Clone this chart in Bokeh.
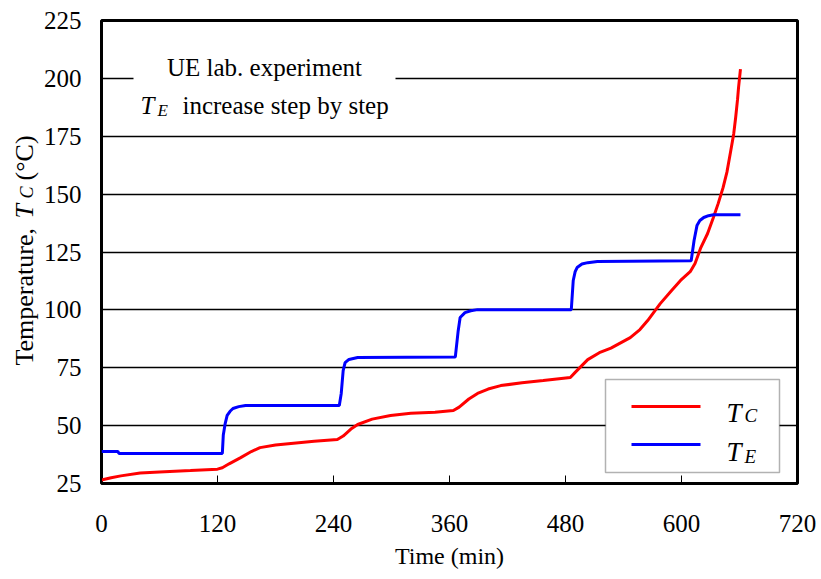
import math
from bokeh.plotting import figure
from bokeh.layouts import row
from bokeh.models import FixedTicker, Label, BoxAnnotation
from bokeh.embed import file_html
from bokeh.resources import INLINE

# ---- data ----
time_TE = [0, 17, 18, 125, 126, 128, 130, 133, 136, 142, 149,
           246, 248, 250, 252, 256, 265,
           366, 369, 371, 376, 382, 389,
           486, 488, 490, 492, 497, 503, 513,
           610, 613, 616, 619, 623, 628, 633, 661]
TE = [38.8, 38.8, 38.0, 38.0, 46.0, 51.0, 54.4, 56.2, 57.4, 58.2, 58.7,
      58.7, 63.9, 73.8, 77.2, 78.6, 79.4,
      79.6, 91.0, 96.7, 98.8, 99.6, 100.1,
      100.1, 112.7, 116.5, 118.3, 119.8, 120.4, 120.9,
      121.2, 130.0, 136.4, 138.6, 139.9, 140.7, 141.1, 141.1]

time_TC = [0, 10, 20, 40, 60, 92, 120, 125, 132, 144,
           155, 164, 180, 196, 220, 244, 250, 258, 265, 280,
           299, 320, 345, 364, 370, 380, 389, 400, 413, 435,
           457, 485, 490, 503, 515, 527, 547, 557, 565, 578,
           590, 599, 609, 614, 620, 627, 633, 638, 643, 647,
           651, 654, 656, 658, 659, 660, 661]
TC = [26.5, 27.5, 28.3, 29.5, 30.0, 30.6, 31.2, 31.8, 33.5, 36.2,
      38.8, 40.5, 41.6, 42.3, 43.2, 44.0, 45.5, 48.5, 50.5, 52.8,
      54.4, 55.3, 55.8, 56.5, 58.0, 61.5, 63.9, 65.8, 67.3, 68.5,
      69.5, 70.8, 73.0, 78.5, 81.5, 83.5, 88.0, 91.5, 95.4, 102.7,
      108.5, 112.7, 116.5, 120.0, 126.9, 133.0, 139.9, 146.0, 152.8, 159.5,
      168.8, 176.0, 183.0, 191.0, 196.0, 200.0, 204.0]

x_ticks = [0, 120, 240, 360, 480, 600, 720]
y_ticks = [25, 50, 75, 100, 125, 150, 175, 200, 225]

FONT = "Times, serif"

# page geometry (pixels)
W, H = 821, 579
LW = 40                      # width of the strip holding the y-axis title
FL, FR, FT, FB = 101, 797, 20, 483

def dx(px):
    return (px - FL) * 720.0 / (FR - FL)

def dy(py):
    return 25 + (FB - py) * 200.0 / (FB - FT)

# ---- strip for the y-axis title ----
ttl = figure(width=LW, height=H, x_range=(0, LW), y_range=(0, H),
             output_backend="svg", toolbar_location=None,
             x_axis_type=None, y_axis_type=None,
             min_border_left=0, min_border_right=0,
             min_border_top=0, min_border_bottom=0)
if "frame_align" in ttl.properties():
    ttl.frame_align = False
ttl.outline_line_color = None
ttl.background_fill_color = "white"
ttl.border_fill_color = "white"

def tlab(text, px, py, size, style="normal"):
    ttl.add_layout(Label(x=px, y=H - py, x_units="data", y_units="data",
                         text=text, text_font=FONT, text_font_size=f"{size}px",
                         text_font_style=style, text_color="black",
                         text_align="left", text_baseline="alphabetic",
                         angle=math.pi / 2))

tlab("Temperature,", 24, 365, 26)
tlab("T", 24, 218, 26, style="italic")
tlab("C", 26, 198, 18, style="italic")
tlab("(°C)", 24, 180, 26)

# ---- main chart ----
p = figure(width=W - LW, height=H, x_range=(0, 720), y_range=(25, 225),
           output_backend="svg", toolbar_location=None,
           min_border_left=FL - LW, min_border_right=W - FR,
           min_border_top=FT, min_border_bottom=H - FB)
if "frame_align" in p.properties():
    p.frame_align = False
p.background_fill_color = "white"
p.border_fill_color = "white"
p.outline_line_color = "black"
p.outline_line_width = 3

p.xgrid.visible = False
p.ygrid.ticker = FixedTicker(ticks=y_ticks)
p.ygrid.grid_line_color = "black"
p.ygrid.grid_line_width = 1.5
p.ygrid.level = "image"

p.xaxis.ticker = FixedTicker(ticks=x_ticks)
p.yaxis.ticker = FixedTicker(ticks=y_ticks)
for ax in (p.xaxis, p.yaxis):
    ax.axis_line_color = None
    ax.minor_tick_line_color = None
    ax.major_label_text_font = FONT
    ax.major_label_text_font_size = "25px"
    ax.major_label_text_color = "black"
    ax.major_tick_out = 0
p.xaxis.major_tick_in = 8
p.xaxis.major_tick_line_color = "black"
p.xaxis.major_tick_line_width = 1
p.yaxis.major_tick_in = 0
p.yaxis.major_tick_line_color = None
p.xaxis.major_label_standoff = 31
p.yaxis.major_label_standoff = 20

p.xaxis.axis_label = "Time (min)"
p.xaxis.axis_label_text_font = FONT
p.xaxis.axis_label_text_font_size = "24px"
p.xaxis.axis_label_text_font_style = "normal"
p.xaxis.axis_label_text_color = "black"
p.xaxis.axis_label_standoff = 8

# data lines
p.line(time_TC, TC, line_color="#ff0000", line_width=3)
p.line(time_TE, TE, line_color="#0000ff", line_width=3)

def lab(text, px, py, size, style="normal", align="left"):
    p.add_layout(Label(x=px - FL, y=FB - py, x_units="screen", y_units="screen",
                       text=text, text_font=FONT, text_font_size=f"{size}px",
                       text_font_style=style, text_color="black",
                       text_align=align, text_baseline="alphabetic"))

# annotation box
p.add_layout(BoxAnnotation(left=dx(133), right=dx(395), top=dy(34), bottom=dy(124),
                           fill_color="white", fill_alpha=1.0, line_color=None,
                           level="underlay"))
lab("UE lab. experiment", 264, 67, 25, align="center")
lab("T", 140, 105, 25, style="italic")
lab("E", 157, 110, 17, style="italic")
lab("increase step by step", 182, 105, 25)

# legend
p.add_layout(BoxAnnotation(left=dx(605), right=dx(779), top=dy(379), bottom=dy(472),
                           fill_color="white", fill_alpha=1.0, line_color="black",
                           line_width=1.5, level="underlay"))
p.line([dx(631), dx(700)], [dy(406), dy(406)], line_color="#ff0000", line_width=3)
p.line([dx(631), dx(700)], [dy(444), dy(444)], line_color="#0000ff", line_width=3)
lab("T", 726, 412, 27, style="italic")
lab("C", 744, 415, 19, style="italic")
lab("T", 726, 451, 27, style="italic")
lab("E", 744, 456, 19, style="italic")

layout = row(ttl, p, spacing=0)
open("out.html", "w").write(file_html(layout, INLINE))
